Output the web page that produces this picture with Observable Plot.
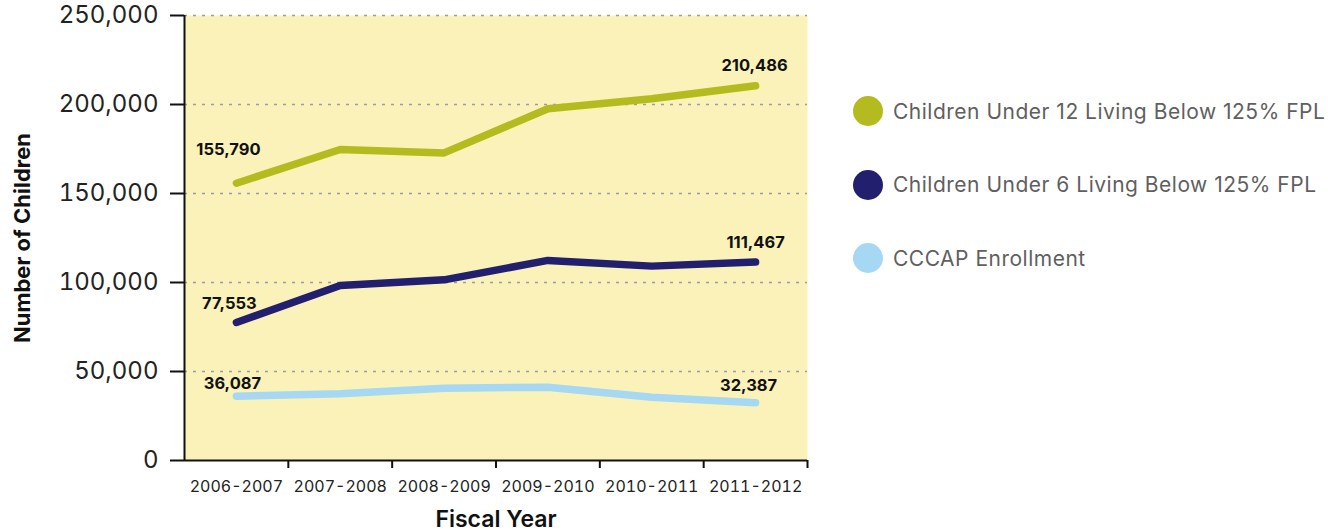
<!DOCTYPE html>
<html>
<head>
<meta charset="utf-8">
<script src="https://cdn.jsdelivr.net/npm/d3@7"></script>
<script src="https://cdn.jsdelivr.net/npm/@observablehq/plot@0.6"></script>
<style>
  html, body { margin: 0; padding: 0; background: #ffffff; }
  #wrap { position: relative; width: 1328px; height: 532px; overflow: hidden; font-family: Inter, "DejaVu Sans", sans-serif; }
  #chart { position: absolute; left: 0; top: 0; }
  #legend { position: absolute; left: 853px; top: 96px; }
  .item { display: flex; align-items: center; height: 30px; margin-bottom: 43.5px; }
  .dot { width: 30px; height: 30px; border-radius: 50%; flex: none; }
  .name { margin-left: 10px; font-size: 21px; letter-spacing: 0.5px; color: #5f5f5f; white-space: nowrap; }
</style>
</head>
<body>
<div id="wrap">
  <div id="chart"></div>
  <div id="legend"></div>
</div>
<script>
// Fiscal years on the horizontal axis
const years = ["2006-2007", "2007-2008", "2008-2009", "2009-2010", "2010-2011", "2011-2012"];

// Number of children per fiscal year
const under12 = [155790, 174700, 172800, 197600, 203200, 210486];
const under6  = [77553, 98300, 101500, 112400, 109200, 111467];
const cccap   = [36087, 37500, 40600, 41200, 35500, 32387];

const seriesNames = [
  "Children Under 12 Living Below 125% FPL",
  "Children Under 6 Living Below 125% FPL",
  "CCCAP Enrollment"
];
const seriesColors = ["#b3bb1e", "#221f6f", "#a6d8f3"];

const yTicks = [0, 50000, 100000, 150000, 200000, 250000];

// Long-format rows for the line marks
const seriesValues = [under12, under6, cccap];
const rows = seriesValues.flatMap((vals, s) =>
  vals.map((v, i) => ({ pos: i + 0.5, value: v, series: seriesNames[s] }))
);

const fmt = d3.format(",");

// Value labels at the first and last point of each series
function endLabel(s, i, dx, dy) {
  return Plot.text([{ pos: i + 0.5, value: seriesValues[s][i] }], {
    x: "pos", y: "value", text: d => fmt(d.value),
    dx, dy, fontSize: 16.5, fontWeight: "bold", fill: "#111",
    style: "letter-spacing:1px"
  });
}

const chart = Plot.plot({
  width: 830,
  height: 532,
  marginLeft: 184,
  marginRight: 23,
  marginTop: 15,
  marginBottom: 72,
  style: { fontFamily: "Inter, 'DejaVu Sans', sans-serif", background: "transparent", overflow: "visible" },
  x: { type: "linear", domain: [0, years.length], axis: null },
  y: { domain: [0, 250000], axis: null },
  color: { domain: seriesNames, range: seriesColors },
  marks: [
    Plot.frame({ fill: "#faf2b9", stroke: null }),
    Plot.gridY(yTicks.slice(1), { stroke: "#9a9aa8", strokeOpacity: 1, strokeWidth: 1.3, strokeDasharray: "3,6" }),
    Plot.line(rows, {
      x: "pos", y: "value", z: "series", stroke: "series",
      strokeWidth: 7.5, strokeLinecap: "round", strokeLinejoin: "round"
    }),
    endLabel(0, 0, -8, -33),
    endLabel(0, 5, -1, -20),
    endLabel(1, 0, -7, -19),
    endLabel(1, 5, 0, -19),
    endLabel(2, 0, -4, -13),
    endLabel(2, 5, -7, -17),
    // y axis
    Plot.axisY({
      ticks: yTicks, tickSize: 14, tickPadding: 12, tickFormat: fmt,
      fontSize: 24, fill: "#222", stroke: "#111", strokeWidth: 2, label: null
    }),
    Plot.ruleX([0], { stroke: "#111", strokeWidth: 2 }),
    // x axis: boundary ticks and centred year labels
    Plot.ruleY([0], { stroke: "#111", strokeWidth: 2 }),
    Plot.axisX({
      ticks: d3.range(1, years.length + 1), tickSize: 8, tickFormat: () => "",
      stroke: "#111", strokeWidth: 2, label: null
    }),
    Plot.axisX({
      ticks: years.map((_, i) => i + 0.5), tickSize: 0, tickPadding: 20,
      tickFormat: d => years[Math.floor(d)], fontSize: 16, fill: "#222",
      label: null, style: "letter-spacing:0.9px"
    }),
    // axis titles
    Plot.text(["Number of Children"], {
      text: d => d, frameAnchor: "left", textAnchor: "middle", dx: -162, rotate: -90,
      fontSize: 22, fontWeight: "bold", fill: "#111", style: "letter-spacing:0.6px"
    }),
    Plot.text(["Fiscal Year"], {
      text: d => d, frameAnchor: "bottom", dy: 66,
      fontSize: 23, fontWeight: 600, fill: "#111"
    })
  ]
});

document.getElementById("chart").appendChild(chart);

// Legend
const legend = document.getElementById("legend");
seriesNames.forEach((name, i) => {
  const item = document.createElement("div");
  item.className = "item";
  const dot = document.createElement("span");
  dot.className = "dot";
  dot.style.background = seriesColors[i];
  const label = document.createElement("span");
  label.className = "name";
  label.textContent = name;
  item.append(dot, label);
  legend.appendChild(item);
});
</script>
</body>
</html>
